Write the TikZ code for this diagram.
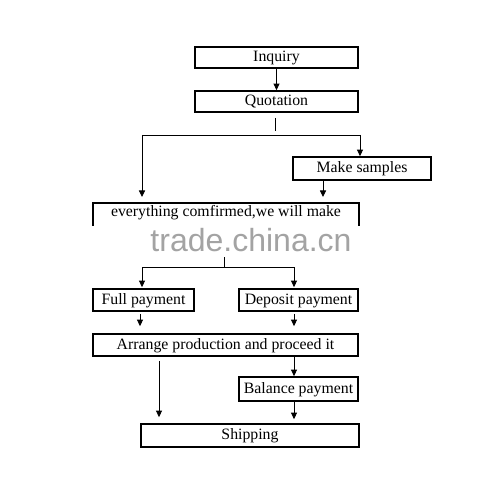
\documentclass[tikz,border=0pt]{standalone}
\usepackage{fontspec}
\setmainfont{Liberation Serif}
\newfontfamily\wmfont{Liberation Sans}
\usetikzlibrary{arrows.meta,calc,positioning}
\tikzset{flow/.style={-{Triangle[length=6.5pt,width=6pt]}, line width=0.9pt},
  stage/.style={draw, line width=1.7pt, inner sep=3pt, text height=11pt, text depth=3pt}}

\begin{document}
\begin{tikzpicture}[x=1pt, y=-1pt, font=\fontsize{15.8}{18}\selectfont]
  \useasboundingbox (0,0) rectangle (501,502);
  \node[stage, minimum width=163, minimum height=21] (inq) at (276.5,57.5) {Inquiry};
  \node[stage, minimum width=163, minimum height=21] (quo) at (276.5,101.5) {Quotation};
  \node[stage, minimum width=138, minimum height=23] (smp) at (362,168.5) {Make samples};
  \node[stage, minimum width=266, anchor=north, text depth=31pt] (cnf) at (226,202) {everything comfirmed,we will make};
  \node[stage, minimum width=101, minimum height=22] (full) at (143.5,300) {Full payment};
  \node[stage, minimum width=119, minimum height=22] (dep) at (298.5,300) {Deposit payment};
  \node[stage, minimum width=265, minimum height=22] (arr) at (225.5,345) {Arrange production and proceed it};
  \node[stage, minimum width=119, minimum height=24] (bal) at (298.5,389) {Balance payment};
  \node[stage, minimum width=218, minimum height=23] (ship) at (250,435.5) {Shipping};
  % watermark band over the lower part of the confirmation box
  \fill[white] (86,226) rectangle (366,257);
  \node[font=\wmfont\fontsize{32}{34}\selectfont, text=black!36] (mark) at (251,240) {trade.china.cn};
  \draw[flow] (inq) -- (quo);
  % split after quotation: straight on, or via samples
  \coordinate (q0) at ($(quo.south)+(-1.5,5)$);
  \coordinate (railL) at (142,135);
  \coordinate (railR) at (360,135);
  \draw (q0) -- ++(0,13);
  \draw (railL) -- (railR);
  \draw[flow, shorten >=5pt] (railL) -- (railL |- cnf.north);
  \draw[flow] (railR) -- (railR |- smp.north);
  \coordinate (s0) at ($(smp.south)+(-39,0)$);
  \draw[flow, shorten >=5pt] (s0) -- (s0 |- cnf.north);
  % split into the two payment ways
  \coordinate (c0) at (224,257);
  \coordinate (pL) at (142,267);
  \coordinate (pR) at (294,267);
  \draw (c0) -- (c0 |- pL);
  \draw (pL) -- (pR);
  \draw[flow, shorten >=1pt] (pL) -- (pL |- full.north);
  \draw[flow, shorten >=1pt] (pR) -- (pR |- dep.north);
  \coordinate (f0) at ($(full.south)+(-3.5,0)$);
  \coordinate (d0) at ($(dep.south)+(-4.5,0)$);
  \draw[flow, shorten <=2pt, shorten >=7pt] (f0) -- (f0 |- arr.north);
  \draw[flow, shorten <=2pt, shorten >=7pt] (d0) -- (d0 |- arr.north);
  \coordinate (a0) at ($(arr.south)+(-66.5,0)$);
  \coordinate (a1) at ($(arr.south)+(68.5,0)$);
  \draw[flow, shorten <=4pt, shorten >=6pt] (a0) -- (a0 |- ship.north);
  \draw[flow] (a1) -- (a1 |- bal.north);
  \coordinate (b0) at ($(bal.south)+(-4.5,0)$);
  \draw[flow, shorten >=4pt] (b0) -- (b0 |- ship.north);
\end{tikzpicture}
\end{document}
